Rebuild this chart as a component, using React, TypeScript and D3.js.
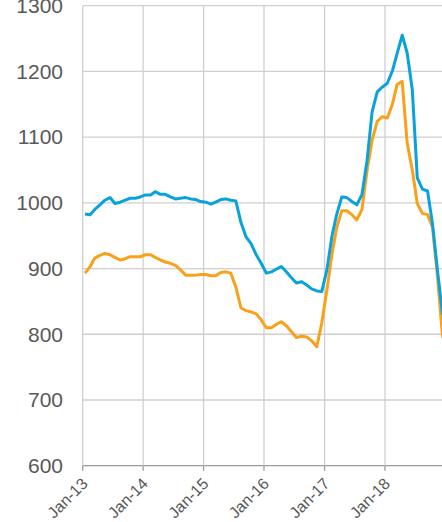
import React from "react";
import * as d3 from "d3";

const W = 442;
const H = 522;

// monthly observations, Jan-2013 .. Dec-2018 (plotted mid-month)
const startYear = 2013;
const blueSeries = [
  983, 982, 990, 997, 1004, 1008, 999, 1001, 1004, 1007, 1007, 1009,
  1012, 1012, 1017, 1013, 1013, 1009, 1006, 1007, 1008, 1006, 1005, 1002,
  1001, 998, 1001, 1005, 1006, 1004, 1003, 970, 948, 938, 921, 908,
  893, 895, 899, 903, 895, 886, 878, 880, 875, 869, 866, 865,
  898, 950, 982, 1009, 1008, 1002, 997, 1013, 1065, 1138, 1169, 1176,
  1182, 1201, 1227, 1255, 1228, 1172, 1038, 1021, 1018, 968, 895, 830,
];
const orangeSeries = [
  893, 903, 916, 920, 923, 921, 917, 913, 915, 918, 918, 918,
  921, 921, 917, 913, 910, 908, 905, 898, 890, 890, 890, 891,
  891, 889, 889, 894, 895, 893, 872, 840, 836, 834, 831, 822,
  810, 810, 815, 819, 813, 804, 795, 797, 796, 790, 781, 817,
  867, 922, 962, 988, 988, 982, 974, 990, 1050, 1095, 1124, 1131,
  1129, 1150, 1180, 1185, 1091, 1050, 999, 984, 982, 963, 885, 795,
];
const yTicks = [600, 700, 800, 900, 1000, 1100, 1200, 1300];
const xTickYears = [2013, 2014, 2015, 2016, 2017, 2018];
const xTickLabels = ["Jan-13", "Jan-14", "Jan-15", "Jan-16", "Jan-17", "Jan-18"];
const gridYears = [2013, 2014, 2015, 2016, 2017, 2018, 2019];

const BLUE = "#0aa2dc";
const ORANGE = "#f9a11b";

export default function App() {
  const left = 82.7;
  const bottom = 465.7;
  const top = 5.7;

  const x = d3
    .scaleTime()
    .domain([new Date(2013, 0, 1), new Date(2018, 0, 1)])
    .range([left, 385]);
  const y = d3.scaleLinear().domain([600, 1300]).range([bottom, top]);

  const dates = blueSeries.map((_, i) => new Date(startYear, i, 15));
  const line = d3
    .line<number>()
    .x((_, i) => x(dates[i]))
    .y((d) => y(d));

  const font = "'Liberation Sans', Arial, sans-serif";

  return (
    <svg
      width={W}
      height={H}
      style={{ position: "absolute", left: 0, top: 0, background: "#fff" }}
    >
      <rect x={0} y={0} width={W} height={H} fill="#fff" />
      {/* horizontal gridlines */}
      {yTicks.map((t) => (
        <line
          key={"h" + t}
          x1={left}
          x2={W + 10}
          y1={y(t)}
          y2={y(t)}
          stroke={t === 600 ? "#9a9a9a" : "#cfcfcf"}
          strokeWidth={1.3}
        />
      ))}
      {/* vertical gridlines */}
      {gridYears.map((yr) => {
        const xx = x(new Date(yr, 0, 1));
        return (
          <g key={"v" + yr}>
            <line x1={xx} x2={xx} y1={top} y2={bottom} stroke="#cfcfcf" strokeWidth={1.3} />
            <line x1={xx} x2={xx} y1={bottom} y2={bottom + 5} stroke="#9a9a9a" strokeWidth={1.3} />
          </g>
        );
      })}
      {/* y labels */}
      {yTicks.map((t) => (
        <text
          key={"yl" + t}
          x={63}
          y={y(t)}
          dy="0.35em"
          textAnchor="end"
          fontFamily={font}
          fontSize={21}
          fill="#595959"
        >
          {t}
        </text>
      ))}
      {/* x labels */}
      {xTickYears.map((yr, i) => {
        const xx = x(new Date(yr, 0, 1));
        return (
          <text
            key={"xl" + yr}
            transform={`translate(${xx + 6},${bottom + 19}) rotate(-45)`}
            textAnchor="end"
            fontFamily={font}
            fontSize={16}
            fill="#595959"
          >
            {xTickLabels[i]}
          </text>
        );
      })}
      <path
        d={line(orangeSeries) || ""}
        fill="none"
        stroke={ORANGE}
        strokeWidth={3}
        strokeLinejoin="round"
      />
      <path
        d={line(blueSeries) || ""}
        fill="none"
        stroke={BLUE}
        strokeWidth={3}
        strokeLinejoin="round"
      />
    </svg>
  );
}
